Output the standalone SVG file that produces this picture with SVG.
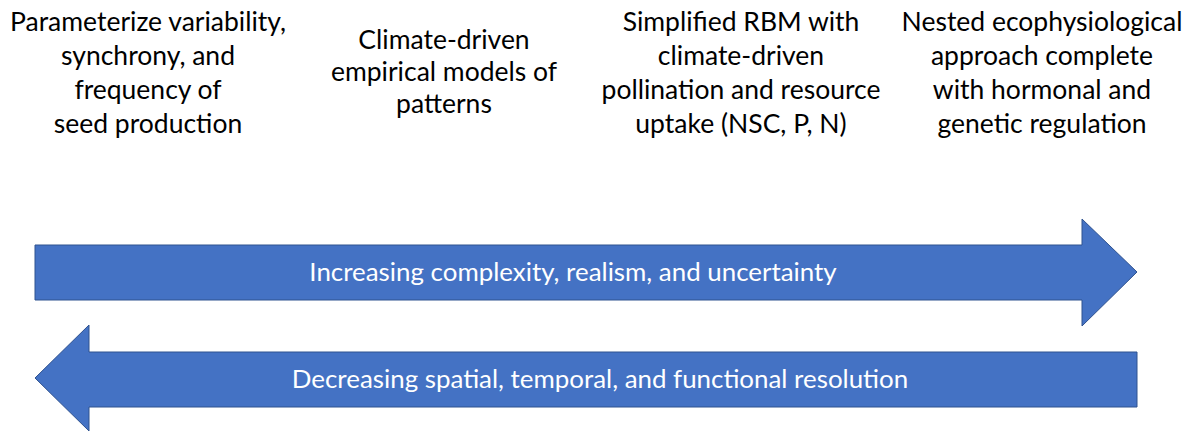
<svg xmlns="http://www.w3.org/2000/svg" width="1189" height="432" viewBox="0 0 1189 432">
<style>
.lbl{font-family:Lato,"Open Sans",sans-serif;font-size:26.5px;fill:#000;text-anchor:middle}
.atx{font-family:Lato,"Open Sans",sans-serif;font-size:25.9px;fill:#fff;text-anchor:middle}
.arr{fill:#4472C4;stroke:#2F528F;stroke-width:1}
</style>
<rect width="1189" height="432" fill="#fff"/>
<g id="label1">
<text class="lbl" x="148" y="31">Parameterize variability,</text>
<text class="lbl" x="148" y="65">synchrony, and</text>
<text class="lbl" x="148" y="99">frequency of</text>
<text class="lbl" x="148" y="133">seed production</text>
</g>
<g id="label2">
<text class="lbl" x="444" y="49">Climate-driven</text>
<text class="lbl" x="444" y="81">empirical models of</text>
<text class="lbl" x="444" y="113">patterns</text>
</g>
<g id="label3">
<text class="lbl" x="741" y="31">Simplified RBM with</text>
<text class="lbl" x="741" y="65">climate-driven</text>
<text class="lbl" x="741" y="99">pollination and resource</text>
<text class="lbl" x="741" y="133">uptake (NSC, P, N)</text>
</g>
<g id="label4">
<text class="lbl" x="1042" y="31">Nested ecophysiological</text>
<text class="lbl" x="1042" y="65">approach complete</text>
<text class="lbl" x="1042" y="99">with hormonal and</text>
<text class="lbl" x="1042" y="133">genetic regulation</text>
</g>
<g id="connectors">
<g id="arrow-right">
<polygon class="arr" points="35,245 1082,245 1082,219 1137,272 1082,326 1082,300 35,300"/>
<text class="atx" x="573" y="281">Increasing complexity, realism, and uncertainty</text>
</g>
<g id="arrow-left">
<polygon class="arr" points="1137,352 89,352 89,325 35,378 89,431 89,407 1137,407"/>
<text class="atx" x="600" y="388">Decreasing spatial, temporal, and functional resolution</text>
</g>
</g>
</svg>
